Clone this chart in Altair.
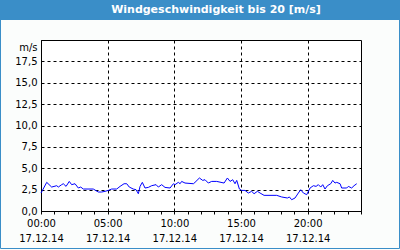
import altair as alt
import pandas as pd

title_text = ["Windgeschwindigkeit bis 20 [m/s]"]
date_label = "17.12.14"

hours = [0.00, 0.43, 0.80, 1.18, 1.30, 1.55, 1.67, 1.88, 2.12, 2.30, 2.55, 2.80, 2.98, 3.17,
         3.92, 4.30, 4.55, 4.80, 5.05, 5.30, 5.68, 5.93, 6.23, 6.43, 6.62, 6.92, 7.13, 7.30,
         7.43, 7.60, 7.80, 8.05, 8.30, 8.63, 8.80, 9.05, 9.30, 9.68, 9.93, 10.05, 10.30, 10.43,
         10.55, 10.80, 11.43, 11.55, 11.88, 12.13, 12.30, 12.55, 12.80, 13.18, 13.73, 13.98,
         14.18, 14.38, 14.55, 14.68, 14.88, 15.05, 15.30, 15.55, 15.80, 15.98, 16.23, 16.43,
         16.73, 17.68, 18.05, 18.48, 18.63, 18.80, 19.05, 19.30, 19.48, 19.68, 19.93, 20.18,
         20.43, 20.63, 20.80, 20.98, 21.13, 21.30, 21.48, 21.73, 21.88, 22.05, 22.18, 22.43,
         22.55, 22.93, 23.05, 23.30, 23.48, 23.68]
speed = [2.10, 3.35, 2.80, 2.96, 2.80, 3.08, 3.19, 2.88, 3.46, 3.08, 3.19, 2.69, 2.80, 2.57,
         2.57, 2.22, 2.22, 2.30, 2.41, 2.57, 2.57, 2.88, 3.19, 3.19, 2.80, 2.57, 2.49, 2.02,
         2.88, 3.35, 2.69, 2.76, 2.96, 3.08, 2.80, 3.08, 2.76, 2.69, 3.19, 3.08, 3.35, 3.19,
         3.46, 3.27, 3.19, 3.35, 3.86, 3.58, 3.66, 3.27, 3.46, 3.46, 3.27, 3.86,
         3.46, 3.66, 3.19, 3.58, 2.57, 2.41, 2.41, 2.10, 2.30, 2.02, 2.30, 2.10,
         1.83, 1.83, 1.64, 1.52, 1.64, 1.32, 1.52, 2.10, 2.49, 2.10, 1.91, 2.69,
         2.96, 2.88, 3.08, 2.80, 3.08, 2.57, 2.96, 3.19, 3.58, 3.27, 3.35, 3.19,
         2.69, 2.69, 2.88, 2.69, 2.96, 3.19]

x_tick_values = list(range(0, 25))
y_tick_values = [0, 2.5, 5, 7.5, 10, 12.5, 15, 17.5]

FONT = "DejaVu Sans"
BLUE = "#3a8ec8"

df = pd.DataFrame({"h": hours, "v": speed})

x_axis = alt.Axis(
    values=x_tick_values,
    title=None,
    grid=True,
    gridColor="black",
    gridDash=[3, 3],
    gridOpacity={"condition": {"test": "datum.value % 5 === 0", "value": 1}, "value": 0},
    labelExpr=(
        "datum.value % 5 === 0 && datum.value < 24 ? "
        "[(datum.value < 10 ? '0' : '') + datum.value + ':00', '" + date_label + "'] : ''"
    ),
    labelFlush=False,
    labelOverlap=False,
    labelFont=FONT,
    labelFontSize=10,
    labelColor="black",
    labelLineHeight=15,
    labelPadding=4,
    tickSize=3,
    tickColor="black",
    domainColor="black",
)

y_axis = alt.Axis(
    values=y_tick_values,
    labelExpr="replace(format(datum.value, '.1f'), '.', ',')",
    grid=True,
    gridColor="black",
    gridDash=[3, 3],
    ticks=False,
    domainColor="black",
    labelFont=FONT,
    labelFontSize=10,
    labelColor="black",
    labelPadding=4,
    labelFlush=False,
    title="m/s",
    titleAngle=0,
    titleX=-4,
    titleY=7,
    titleAlign="right",
    titleBaseline="middle",
    titleFont=FONT,
    titleFontSize=10,
    titleFontWeight="normal",
    titleColor="black",
)

line = alt.Chart(df).mark_line(color="#0000ff", strokeWidth=1, interpolate="linear").encode(
    x=alt.X("h:Q", scale=alt.Scale(domain=[0, 24], nice=False, zero=True), axis=x_axis),
    y=alt.Y("v:Q", scale=alt.Scale(domain=[0, 20], nice=False), axis=y_axis),
)

tdf = pd.DataFrame({"t": title_text})
bar = alt.Chart(tdf).mark_rect(color=BLUE).encode(
    x=alt.value(-41), x2=alt.value(359), y=alt.value(-40), y2=alt.value(-20)
)
title = alt.Chart(tdf).mark_text(
    color="white", font=FONT, fontSize=11, fontWeight="bold", align="center", baseline="middle"
).encode(text="t:N", x=alt.value(175), y=alt.value(-30))
border = alt.Chart(tdf).mark_rect(fillOpacity=0, stroke=BLUE, strokeWidth=1).encode(
    x=alt.value(-40.5), x2=alt.value(358.5), y=alt.value(-39.5), y2=alt.value(208.5)
)

chart = alt.layer(bar, title, line, border).properties(
    width=320,
    height=171,
    autosize=alt.AutoSizeParams(type="none"),
    padding={"left": 41, "top": 40, "right": 39, "bottom": 39},
    background="#fbfdfc",
).configure_view(stroke="black", strokeWidth=1, fill="white")

chart.save("out.html", embed_options={"renderer": "svg", "actions": False})
